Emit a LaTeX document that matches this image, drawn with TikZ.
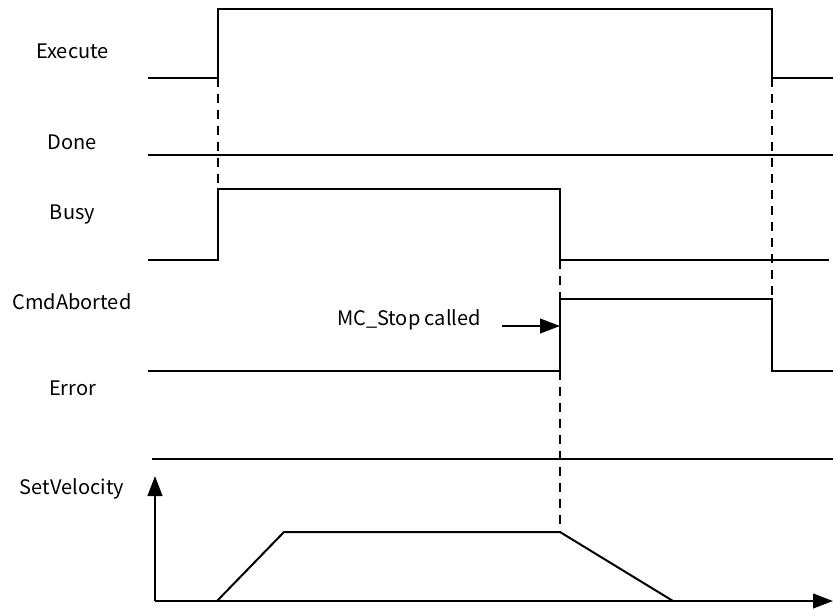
\documentclass[tikz,border=0pt]{standalone}
\usepackage{fontspec}
\setmainfont{Noto Sans CJK SC}
\usetikzlibrary{arrows.meta}
\begin{document}
\begin{tikzpicture}[x=0.75pt,y=-0.75pt,
  sig/.style={line width=1.5pt,line join=miter},
  guide/.style={line width=1.1pt,dash pattern=on 7pt off 5pt},
  lbl/.style={font=\fontsize{15}{17}\selectfont,inner sep=0pt},
  arr/.style={line width=1.5pt,-{Triangle[length=15pt,width=11pt]}}]
\useasboundingbox (0,0) rectangle (833,610);
% labels
\node[lbl] (lexec) at (72.5,51) {Execute};
\node[lbl] (ldone) at (72.5,142) {Done};
\node[lbl] (lbusy) at (72.5,215) {Busy};
\node[lbl] (lcmd) at (72,301.5) {CmdAborted};
\node[lbl] (lerr) at (72.5,388.5) {Error};
\node[lbl] (lvel) at (72,488.5) {SetVelocity};
\node[lbl] (lstop) at (409,320) {MC\_Stop called};
% key coordinates
\coordinate (e1) at (218,78);
\coordinate (e2) at (772,78);
\coordinate (b1) at (218,189);
\coordinate (b2) at (560,260);
\coordinate (c1) at (560,299);
\coordinate (c2) at (772,299);
\coordinate (c3) at (560,371);
\coordinate (v2) at (560,532);
\coordinate (o) at (155,601);
\coordinate (ytip) at (155,476);
\coordinate (xtip) at (833,601);
\coordinate (stopstart) at (502,326);
\coordinate (stopend) at (560,326);
% signals
\draw[sig] (148,78) -- (e1) -- (218,9) -- (772,9) -- (e2) -- (833,78);
\draw[sig] (148,155) -- (833,155);
\draw[sig] (148,260) -- (218,260) -- (b1) -- (560,189) -- (b2) -- (829,260);
\draw[sig] (148,371) -- (c3) -- (c1) -- (c2) -- (772,371) -- (833,371);
\draw[sig] (152,459) -- (833,459);
% velocity
\draw[arr] (o) -- (ytip);
\draw[arr] (o) -- (xtip);
\draw[sig] (217,601) -- (284,532) -- (v2) -- (673,601);
% guides
\draw[guide] (e1) -- (b1);
\draw[guide] (b2) -- (c1);
\draw[guide] (c3) -- (v2);
\draw[guide] (e2) -- (c2);
% annotation arrow
\draw[arr] (stopstart) -- (stopend);
\end{tikzpicture}
\end{document}
